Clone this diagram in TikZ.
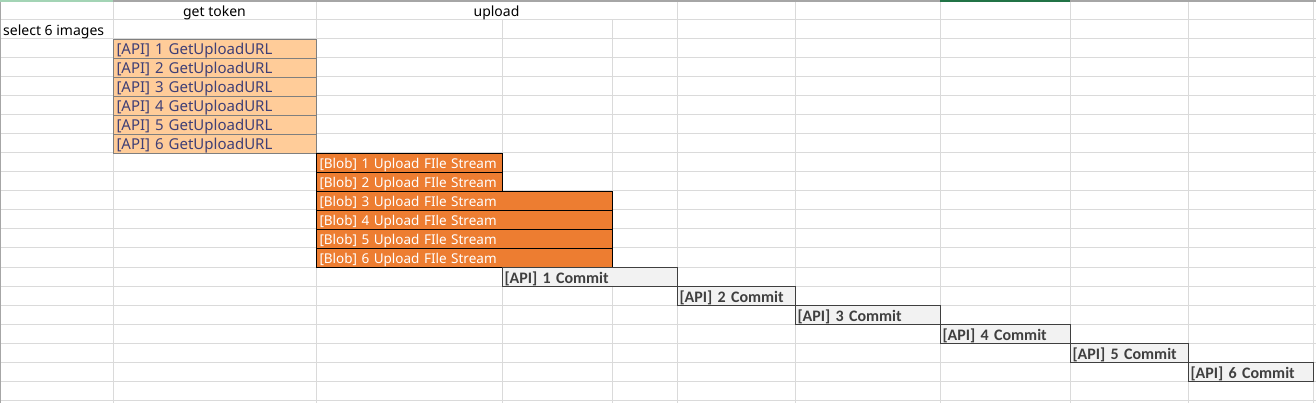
\documentclass[tikz,border=0pt]{standalone}
\usepackage{fontspec}
\setmainfont{Noto Sans}
\newfontfamily\calfont{Carlito}
\definecolor{gridgray}{HTML}{DADADA}
\definecolor{edgegray}{HTML}{A6A6A6}
\definecolor{lightgreen}{HTML}{A3D4B5}
\definecolor{darkgreen}{HTML}{217346}
\definecolor{urlfill}{HTML}{FFCC99}
\definecolor{urlborder}{HTML}{7F7F7F}
\definecolor{urltext}{HTML}{3F3F76}
\definecolor{blobfill}{HTML}{ED7D31}
\definecolor{commitfill}{HTML}{F2F2F2}
\definecolor{commitborder}{HTML}{3F3F3F}
\tikzset{
    gridline/.style={draw=gridgray, line width=1pt},
    cell/.style={anchor=north west, inner xsep=3pt, inner ysep=0pt, minimum height=19pt,
        text height=15.5pt, text depth=3.5pt, align=left, font=\fontsize{14}{16}\selectfont},
    header/.style={cell, anchor=north, align=center},
    urlcell/.style={cell, draw=urlborder, line width=1pt, fill=urlfill, text=urltext,
        font=\fontsize{15}{17}\selectfont},
    blobcell/.style={cell, draw=black, line width=1pt, fill=blobfill, text=white,
        font=\fontsize{13.5}{16}\selectfont},
    commitcell/.style={cell, draw=commitborder, line width=1pt, fill=commitfill, text=commitborder,
        inner xsep=2pt, font=\calfont\bfseries\fontsize{16}{18}\selectfont},
}
\begin{document}
\begin{tikzpicture}[x=1pt, y=-1pt]
        \useasboundingbox (0,0) rectangle (1316,403);
        %% sheet grid
        \foreach \r in {1,...,21}
            \draw[gridline] (0,{1+19*\r}) -- (1316,{1+19*\r});
        \foreach \c in {113,316,677,795,940,1070,1188,1313}
            \draw[gridline] (\c,1) -- (\c,403);
        \foreach \c in {502,612}
            \draw[gridline] (\c,20) -- (\c,403);
        %% sheet edges
        \draw[edgegray, line width=1.5pt] (0,1) -- (1316,1);
        \draw[edgegray, line width=1pt] (0.5,0) -- (0.5,403);
        \draw[lightgreen, line width=1.5pt] (0,1) -- (113,1);
        \draw[darkgreen, line width=2pt] (940,1) -- (1070,1);
        %% headers
        \node (gettoken) [header] at (214.5,1) {get token};
        \node (upload) [header] at (496.5,1) {upload};
        \node (select) [cell] at (0,20) {select 6 images};
        %% get upload url
        \foreach \i in {1,...,6}
            \node (url\i) [urlcell, text width=197pt] at (113,{20+19*\i}) {[API] \i\ GetUploadURL};
        %% upload file streams
        \foreach \i/\w in {1/180,2/180,3/290,4/290,5/290,6/290}
            \node (blob\i) [blobcell, text width=\w pt] at (316,{134+19*\i}) {[Blob] \i\ Upload FIle Stream};
        %% commits
        \foreach \i/\x/\w in {1/502/171,2/677/114,3/795/141,4/940/126,5/1070/114,6/1188/121}
            \node (commit\i) [commitcell, text width=\w pt] at (\x,{248+19*\i}) {[API] \i\ Commit};
    \end{tikzpicture}
\end{document}
